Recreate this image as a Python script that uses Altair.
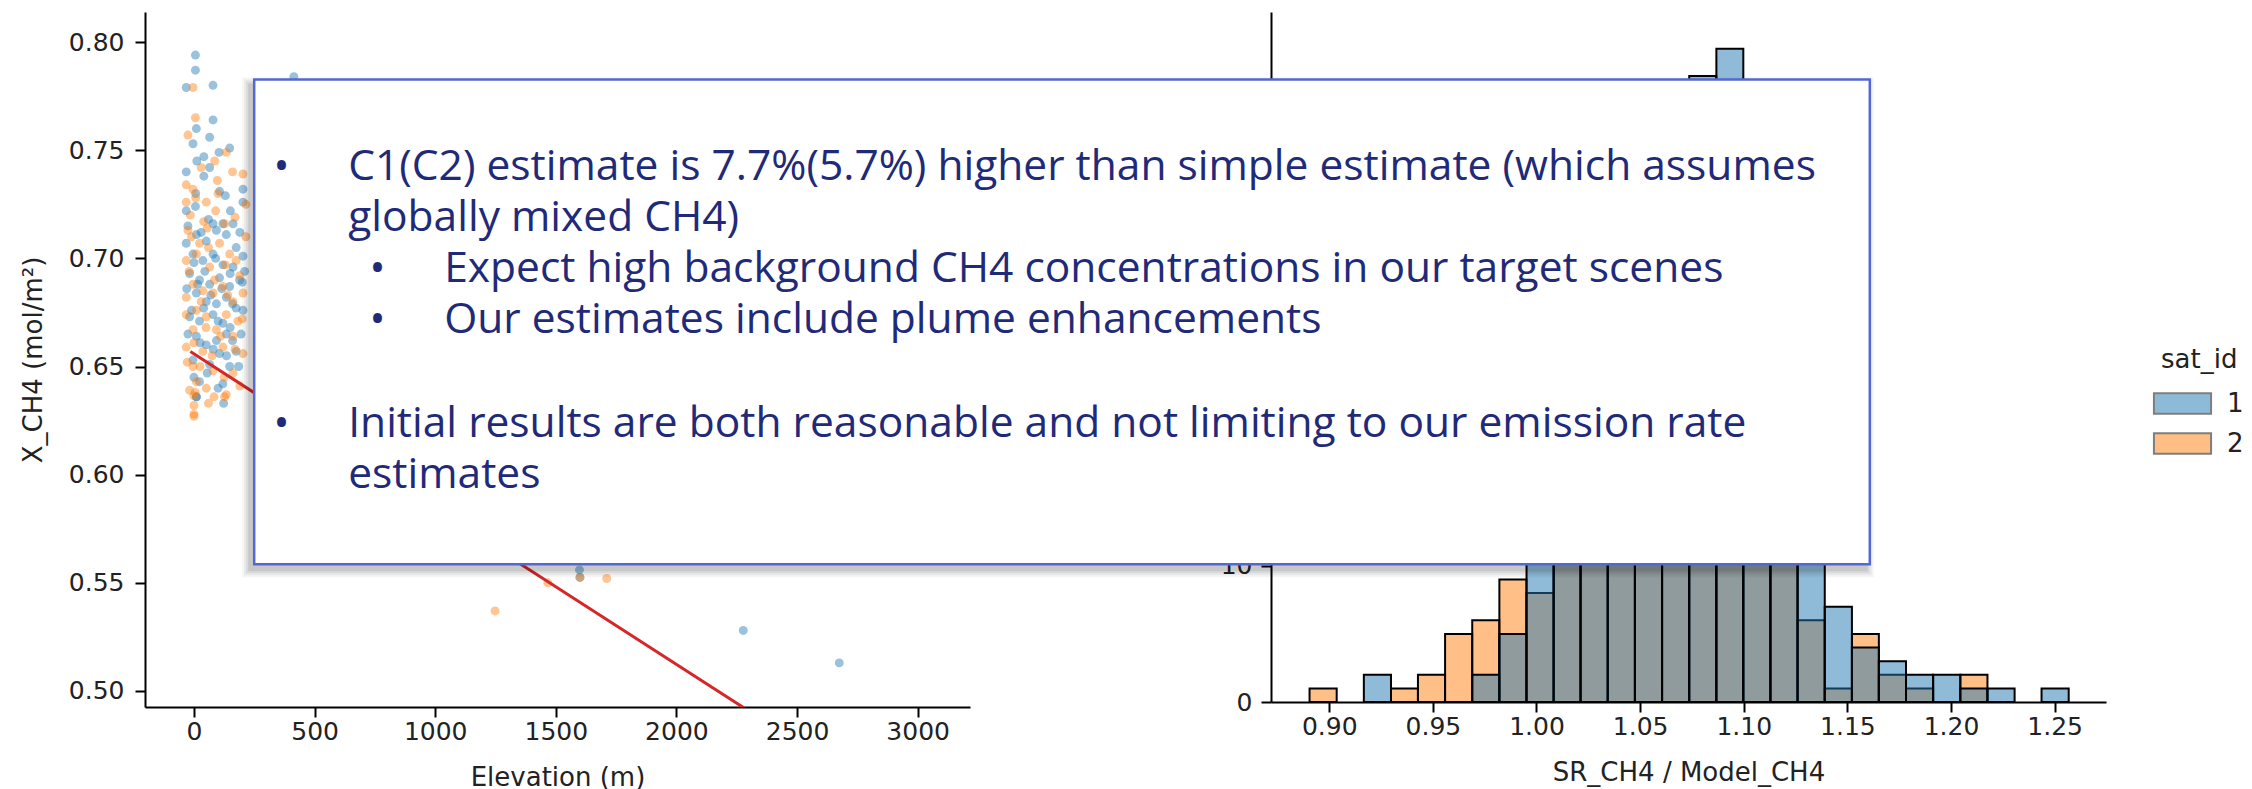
import altair as alt
import pandas as pd

# ---------------- scatter data (Elevation vs X_CH4) ----------------
blue_elev = [6, 6, -32, 79, 79, 10, 65, -4, 41, 12, 148, 104, 65, -32, 41, 106, 130, 7, -32, 6,
             151, 203, 203, 79, 162, -32, 10, 51, 93, 134, 175, -4, 37, 79, 120, 162, 203, -18,
             23, 65, 106, 148, 189, 10, 51, 93, 134, 175, -18, 23, 79, 120, 203, 10, 51, 93, 134,
             175, -4, 65, 106, 148, 23, 120, 10, 10, 123, 414, 1598, 1600, 2277, 2675,
             -25, 30, 60, 120, 190, 0, 45, 90, 150, 200, -30, 15, 70, 115, 160, -10, 40, 100,
             150, 195, -25, 25, 80, 135, 185, 0, 55, 100, 160, 210]
blue_xch4 = [0.794, 0.787, 0.779, 0.780, 0.764, 0.760, 0.756, 0.753, 0.747, 0.745, 0.751, 0.749,
             0.742, 0.740, 0.738, 0.731, 0.729, 0.730, 0.722, 0.724, 0.722, 0.732, 0.726, 0.716,
             0.716, 0.707, 0.711, 0.708, 0.713, 0.711, 0.705, 0.702, 0.699, 0.702, 0.697, 0.696,
             0.701, 0.693, 0.690, 0.688, 0.691, 0.687, 0.690, 0.684, 0.680, 0.679, 0.682, 0.677,
             0.673, 0.671, 0.674, 0.670, 0.676, 0.664, 0.660, 0.662, 0.665, 0.657, 0.653, 0.651,
             0.656, 0.650, 0.643, 0.642, 0.636, 0.636, 0.633, 0.784, 0.556, 0.5525, 0.528, 0.513,
             0.715, 0.712, 0.718, 0.716, 0.712, 0.698, 0.694, 0.700, 0.693, 0.689, 0.686, 0.688,
             0.683, 0.686, 0.679, 0.676, 0.677, 0.671, 0.668, 0.665, 0.665, 0.661, 0.658, 0.655,
             0.650, 0.645, 0.647, 0.640, 0.662, 0.694]
orange_elev = [-4, 6, -25, 134, 86, 97, 203, -32, -4, -32, 7, 51, 127, 55, -25, 23, 106, 148, -32,
               65, 175, -4, 37, 120, 203, -32, 79, 162, 10, 51, 134, -32, 182, -4, 93, 162, -32,
               37, 120, 203, -4, 79, 162, 10, 51, 134, -18, 0, 0, 0, 0, 83, 127,
               1248, 1467, 1600, 1711,
               -15, 40, 90, 170, 215, 10, 60, 130, 190, -20, 30, 85, 140, 200, 0, 50, 110, 170,
               -28, 25, 75, 125, 190, 5, 60, -10, 215, 100, 30, 160]
orange_xch4 = [0.779, 0.765, 0.757, 0.749, 0.745, 0.736, 0.739, 0.734, 0.732, 0.726, 0.728, 0.726,
               0.716, 0.714, 0.713, 0.707, 0.707, 0.702, 0.699, 0.696, 0.699, 0.688, 0.685, 0.687,
               0.684, 0.682, 0.684, 0.680, 0.676, 0.673, 0.674, 0.674, 0.671, 0.667, 0.667, 0.664,
               0.659, 0.657, 0.659, 0.656, 0.650, 0.648, 0.647, 0.643, 0.640, 0.637, 0.639,
               0.6365, 0.632, 0.628, 0.627, 0.636, 0.636, 0.537, 0.550, 0.5525, 0.552,
               0.720, 0.717, 0.722, 0.719, 0.710, 0.702, 0.705, 0.697, 0.692, 0.694, 0.680, 0.690,
               0.683, 0.672, 0.661, 0.668, 0.664, 0.658, 0.652, 0.650, 0.655, 0.645, 0.641, 0.638,
               0.633, 0.710, 0.725, 0.730, 0.742, 0.740]

# regression line end points
fit_elev = [-15, 2680]
fit_xch4 = [0.6569, 0.4635]

# ---------------- histogram data (SR_CH4 / Model_CH4) ----------------
bin_lo = [0.8905, 0.9036, 0.9167, 0.9298, 0.9428, 0.9559, 0.9690, 0.9821, 0.9952, 1.0083,
          1.0213, 1.0344, 1.0475, 1.0606, 1.0737, 1.0868, 1.0998, 1.1129, 1.1260, 1.1391,
          1.1522, 1.1652, 1.1783, 1.1914, 1.2045, 1.2176, 1.2307, 1.2437]
bin_hi = bin_lo[1:] + [1.2568]
count_sat1 = [0, 0, 2, 0, 0, 0, 2, 5, 12, 20, 27, 34, 38, 42, 46, 48, 41, 30, 13, 7,
              4, 3, 2, 2, 1, 1, 0, 1]
count_sat2 = [1, 0, 0, 1, 2, 5, 6, 9, 8, 14, 22, 30, 36, 40, 44, 40, 32, 16, 6, 1,
              5, 2, 1, 0, 2, 0, 0, 0]

sat_ids = ["1", "2"]
sat_colors = ["#1f77b4", "#ff7f0e"]

text_main1 = ["C1(C2) estimate is 7.7%(5.7%) higher than simple estimate (which assumes",
              "globally mixed CH4)"]
text_sub = ["Expect high background CH4 concentrations in our target scenes",
            "Our estimates include plume enhancements"]
text_main2 = ["Initial results are both reasonable and not limiting to our emission rate",
              "estimates"]

# ---------------- tables ----------------
scat_df = pd.DataFrame({
    "elev": blue_elev + orange_elev,
    "xch4": blue_xch4 + orange_xch4,
    "sat_id": ["1"] * len(blue_elev) + ["2"] * len(orange_elev),
})
fit_df = pd.DataFrame({"elev": fit_elev, "xch4": fit_xch4})

rows = []
for sid, counts in (("1", count_sat1), ("2", count_sat2)):
    for lo, hi, c in zip(bin_lo, bin_hi, counts):
        if c > 0:
            rows.append({"lo": lo, "hi": hi, "count": c, "base": 0, "sat_id": sid})
hist_df = pd.DataFrame(rows)
one = pd.DataFrame({"k": [0]})

FONT = "DejaVu Sans"
TXT = "#222222"
NAVY = "#1f2a78"

# ---------------- left panel: scatter ----------------
xs = alt.Scale(domain=[-203, 3217], nice=False, zero=False)
ys = alt.Scale(domain=[0.4926, 0.8139], nice=False, zero=False)
cs_scatter = alt.Scale(domain=sat_ids, range=sat_colors)

points = alt.Chart(scat_df).mark_circle(size=80, opacity=0.45).encode(
    x=alt.X("elev:Q", scale=xs,
            axis=alt.Axis(values=[0, 500, 1000, 1500, 2000, 2500, 3000], format="d",
                          title="Elevation (m)", labelPadding=2, titlePadding=20)),
    y=alt.Y("xch4:Q", scale=ys,
            axis=alt.Axis(values=[0.5, 0.55, 0.6, 0.65, 0.7, 0.75, 0.8], format=".2f",
                          title="X_CH4 (mol/m²)", labelPadding=11, titlePadding=22)),
    color=alt.Color("sat_id:N", scale=cs_scatter, legend=None),
)
fit = alt.Chart(fit_df).mark_line(color="#d62728", strokeWidth=3, clip=True).encode(
    x=alt.X("elev:Q", scale=xs), y=alt.Y("xch4:Q", scale=ys))
scatter = alt.layer(points, fit).properties(width=825, height=695)

# ---------------- right panel: histogram + overlay box ----------------
hx = alt.Scale(domain=[0.8719, 1.2748], nice=False, zero=False)
hy = alt.Scale(domain=[0, 50.7], nice=False)
cs_hist = alt.Scale(domain=sat_ids, range=sat_colors)
legend = alt.Legend(title="sat_id", orient="none", legendX=890, legendY=335,
                    symbolType="M-1.4,-0.5H1.4V0.5H-1.4Z", symbolSize=1665,
                    symbolStrokeColor="black", symbolStrokeWidth=2, symbolOpacity=0.5,
                    labelFontSize=26, titleFontSize=26, titleFontWeight="normal",
                    labelFont=FONT, titleFont=FONT, labelColor=TXT, titleColor=TXT,
                    labelOffset=23, rowPadding=4, titlePadding=9)

def hist_layer(sid):
    return alt.Chart(hist_df).transform_filter(alt.datum.sat_id == sid).mark_rect(
        fillOpacity=0.5, stroke="black", strokeWidth=2).encode(
        x=alt.X("lo:Q", scale=hx,
                axis=alt.Axis(values=[0.9, 0.95, 1.0, 1.05, 1.1, 1.15, 1.2, 1.25], format=".2f",
                              title="SR_CH4 / Model_CH4", labelPadding=2, titlePadding=20)),
        x2="hi:Q",
        # ticks above 10 and the axis title sit under the text box in the reference
        y=alt.Y("count:Q", scale=hy,
                axis=alt.Axis(values=[0, 10], title="", labelPadding=9)),
        y2="base:Q",
        color=alt.Color("sat_id:N", scale=cs_hist, legend=legend),
    )

# overlay text box (pixel positions relative to the histogram panel origin)
BX0, BX1, BY0, BY1 = -1016.8, 598.8, 67.6, 552.3
shadows = []
for e, op in ((8, 0.04), (6, 0.05), (4, 0.06), (2, 0.08)):
    shadows.append(alt.Chart(one).mark_rect(color="black", opacity=op).encode(
        x=alt.value(BX0 - 4 - e), x2=alt.value(BX1 - 4 + e),
        y=alt.value(BY0 + 6 - e), y2=alt.value(BY1 + 5 + e)))
box = alt.Chart(one).mark_rect(fill="white", stroke="#5468d4", strokeWidth=2.5).encode(
    x=alt.value(BX0), x2=alt.value(BX1), y=alt.value(BY0), y2=alt.value(BY1))

def txt(lines, x, y, align="left"):
    return alt.Chart(one).mark_text(align=align, baseline="alphabetic", font="Open Sans",
                                    fontSize=42.5, color=NAVY, lineBreak="\n", lineHeight=51).encode(
        x=alt.value(x), y=alt.value(y), text=alt.value("\n".join(lines)))

t1 = txt(text_main1, -922.8, 168.3)
t2 = txt(text_sub, -826.8, 270)
t3 = txt(text_main2, -922.8, 425)
b1 = txt(["•"], -989.5, 168.3, align="center")
b2 = txt(["•"], -989.5, 425, align="center")
b3 = txt(["•", "•"], -893.5, 270, align="center")

hist = alt.layer(hist_layer("2"), hist_layer("1"), *shadows, box, t1, t2, t3, b1, b2, b3).properties(
    width=835, height=690)

chart = alt.hconcat(scatter, hist, spacing=301, bounds="flush").resolve_scale(
    color="independent"
).properties(
    padding={"left": 20, "top": 12, "right": 5, "bottom": 5},
    background="white",
).configure_view(stroke=None).configure_axis(
    domainColor="black", domainWidth=2, tickColor="black", tickWidth=2, tickSize=10,
    labelFont=FONT, labelFontSize=25, labelColor=TXT,
    titleFont=FONT, titleFontSize=26, titleFontWeight="normal", titleColor=TXT,
    grid=False,
)

chart.save("out.html", embed_options={"renderer": "svg", "actions": False})
